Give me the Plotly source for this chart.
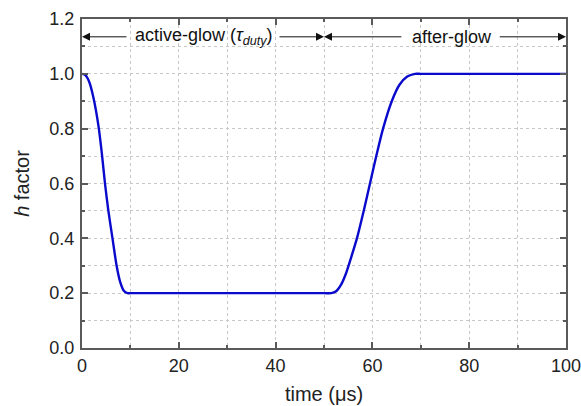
import plotly.graph_objects as go

# data
time_us = [0, 0.7, 1.5, 2.4, 3.4, 4.1, 4.75, 5.45, 6.3, 7.15, 7.9, 8.6, 9.4, 10,
           20, 30, 40, 50, 51.5, 52.5, 53.5, 54.5, 55.6, 56.8, 58.2, 59.5, 60.8, 62.2,
           64.0, 65.6, 67.2, 68.8, 70, 80, 90, 100]
h_factor = [1.0, 0.995, 0.97, 0.91, 0.81, 0.71, 0.6, 0.5, 0.4, 0.3, 0.24, 0.21, 0.2, 0.2,
            0.2, 0.2, 0.2, 0.2, 0.2, 0.207, 0.23, 0.27, 0.33, 0.4, 0.5, 0.6, 0.7, 0.8,
            0.9, 0.96, 0.99, 1.0, 1.0, 1.0, 1.0, 1.0]

x_ticks = [0, 20, 40, 60, 80, 100]
y_ticks = [0.0, 0.2, 0.4, 0.6, 0.8, 1.0, 1.2]

phase_labels = ["active-glow (<i>τ</i><sub><i>duty</i></sub>)", "after-glow"]
phase_label_x = [25.3, 76.4]
phase_bounds = [(0, 50), (50, 100)]
phase_text_edges = [(9.5, 40.5), (66.3, 86.0)]
arrow_y = 1.135

font_family = "Liberation Sans, Arial, sans-serif"

fig = go.Figure()
fig.add_trace(go.Scatter(
    x=time_us, y=h_factor, mode="lines",
    line=dict(color="#0a0acc", width=2.4, shape="spline", smoothing=0.7),
    hoverinfo="skip", showlegend=False))

annotations = []
for label, lx, (x0, x1), (e0, e1) in zip(phase_labels, phase_label_x, phase_bounds, phase_text_edges):
    annotations.append(dict(x=lx, y=arrow_y, xref="x", yref="y", text=label,
                            showarrow=False, font=dict(size=18, color="#111", family=font_family)))
    for head, tail in [(x0, e0), (x1, e1)]:
        annotations.append(dict(x=head, y=arrow_y, ax=tail, ay=arrow_y, xref="x", yref="y",
                                axref="x", ayref="y", text="", showarrow=True,
                                arrowhead=2, arrowsize=1.6, arrowwidth=1, arrowcolor="#111",
                                standoff=0, startstandoff=0))

grid_style = dict(showgrid=True, gridcolor="#c8c8c8", griddash="dot", gridwidth=1)
axis_common = dict(showline=True, linecolor="#5a5a5a", linewidth=2, mirror="ticks",
                   ticks="inside", ticklen=6, tickcolor="#5a5a5a", tickwidth=1.5,
                   zeroline=False, automargin=False, ticklabeloverflow="allow",
                   tickfont=dict(size=18, color="#222", family=font_family))

fig.update_layout(
    width=581, height=406,
    margin=dict(l=82, r=15, t=19, b=58),
    paper_bgcolor="white", plot_bgcolor="white",
    annotations=annotations,
    xaxis=dict(range=[0, 100], tickvals=x_ticks, ticktext=[str(v) for v in x_ticks],
               ticklabelstandoff=0,
               title=dict(text="time (μs)", font=dict(size=20, color="#222", family=font_family),
                          standoff=12),
               minor=dict(dtick=10, ticks="inside", ticklen=3, tickcolor="#5a5a5a",
                          showgrid=True, gridcolor="#c8c8c8", griddash="dot"),
               **grid_style, **axis_common),
    yaxis=dict(range=[0, 1.2], tickvals=y_ticks, ticktext=[f"{v:.1f}" for v in y_ticks],
               ticklabelstandoff=2,
               title=dict(text="<i>h</i> factor", font=dict(size=20, color="#222", family=font_family),
                          standoff=14),
               minor=dict(dtick=0.1, ticks="inside", ticklen=3, tickcolor="#5a5a5a",
                          showgrid=True, gridcolor="#c8c8c8", griddash="dot"),
               **grid_style, **axis_common),
)

# remove the browser's default 8px page margin so the figure fills the window exactly
fig.write_html("out.html", config={"displayModeBar": False},
               post_script="document.body.style.margin = '0px';")
